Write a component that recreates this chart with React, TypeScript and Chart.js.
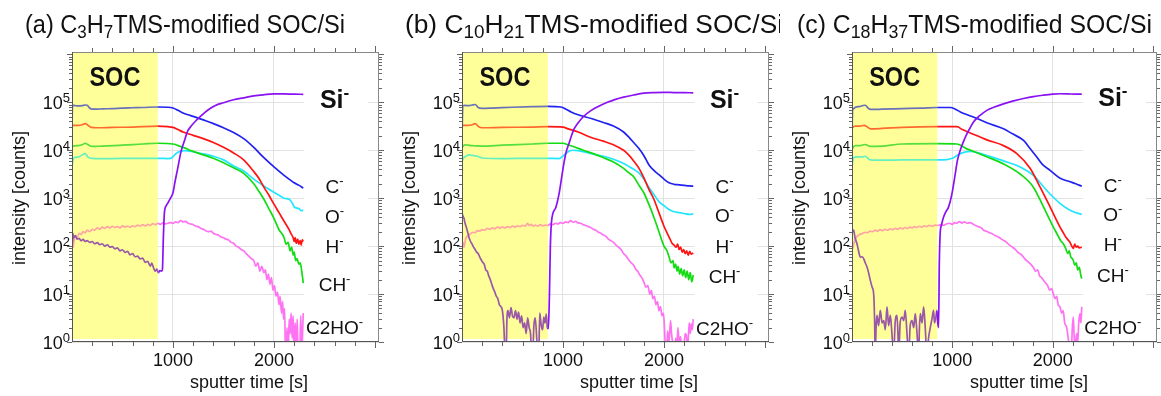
import React, { useEffect, useRef } from 'react';
import { Chart, registerables } from 'chart.js';
Chart.register(...registerables);

const FONT = "'Liberation Sans', Arial, sans-serif";
Chart.defaults.font.family = FONT;

const SOC_END = 850;
const X_MAX = 3040;
const Y_MAX = Math.pow(10, 6.05);
const Y_TICKS = [1, 10, 100, 1000, 10000, 100000];
const X_TICKS = [1000, 2000];

const SERIES_NAMES = ['Si', 'C', 'H', 'CH', 'O', 'C2HO'];
const COLORS = ['#8a12f2', '#2222f0', '#ff1414', '#14dc14', '#22e6ff', '#ff72f2'];
const SOC_COLORS = ['#9a58a8', '#6a72b8', '#ff6a30', '#55de3c', '#66f0c0', '#ffa4a4'];

const RIGHT_LABELS = ['Si', 'C', 'O', 'H', 'CH', 'C2HO'];
const LABEL_T = 2600;

// ---------- panel (a) C3H7 ----------
const aSi = [[0,250],[5,120],[10,180],[20,150],[35,165],[50,140],[70,145],[90,130],[110,138],[130,125],[150,130],[175,120],[200,125],[225,112],[250,118],[275,108],[300,112],[325,100],[350,106],[375,95],[400,98],[425,88],[450,92],[475,80],[500,84],[525,74],[550,78],[575,66],[600,70],[625,60],[650,62],[675,54],[700,56],[725,46],[750,48],[775,38],[790,44],[810,34],[825,30],[840,33],[855,28],[870,31],[885,30],[895,32],[905,160],[915,500],[930,680],[950,800],[975,1000],[1000,1300],[1020,2200],[1045,4000],[1080,9500],[1110,15000],[1145,25000],[1180,32000],[1230,42000],[1280,53000],[1350,70000],[1420,86000],[1500,98000],[1600,113000],[1700,124000],[1800,136000],[1900,144000],[2000,150000],[2100,150000],[2200,148000],[2290,147000]];
const aC = [[0,20000],[4,80000],[20,86000],[60,84000],[100,85000],[130,88000],[150,87000],[175,76000],[200,72000],[250,72000],[300,73000],[400,74000],[500,76000],[600,77000],[700,78000],[850,80000],[950,79000],[1000,76000],[1050,68000],[1100,60000],[1150,55000],[1200,51000],[1300,43000],[1400,36000],[1500,29500],[1600,23500],[1700,17500],[1800,11500],[1900,7000],[2000,4500],[2100,3000],[2200,2100],[2250,1850],[2290,1620]];
const aH = [[0,28000],[4,33000],[60,33000],[100,34000],[130,36000],[160,33000],[190,30000],[250,29500],[400,30000],[600,30500],[850,32000],[950,31000],[1000,30000],[1050,27000],[1100,24000],[1200,20500],[1300,17500],[1400,14500],[1500,11500],[1600,8800],[1700,6300],[1800,3600],[1850,2600],[1900,1700],[1950,1150],[2000,750],[2050,500],[2100,330],[2150,220],[2170,180],[2190,150],[2200,125],[2210,150],[2220,115],[2235,140],[2245,110],[2260,130],[2270,105],[2280,135],[2290,125]];
const aCH = [[0,11000],[4,12000],[60,12500],[100,13000],[130,14000],[160,13000],[200,12000],[300,12200],[500,12800],[700,13500],[850,14000],[1000,13500],[1050,12500],[1100,11500],[1200,9500],[1300,8000],[1400,6800],[1500,5500],[1600,4300],[1700,3300],[1800,2000],[1850,1400],[1900,950],[1950,600],[2000,380],[2050,220],[2080,180],[2100,150],[2120,110],[2140,120],[2160,80],[2175,95],[2190,65],[2200,75],[2215,50],[2230,55],[2245,42],[2260,45],[2275,30],[2290,17]];
const aO = [[0,4500],[5,5500],[20,7000],[60,7200],[100,8000],[130,8500],[160,7200],[200,6800],[400,6700],[600,6800],[850,6800],[950,6700],[990,7000],[1030,8500],[1070,9500],[1120,9800],[1200,9300],[1300,8400],[1400,7500],[1500,6300],[1600,4700],[1700,3700],[1800,2500],[1900,1800],[2000,1330],[2050,1150],[2100,1000],[2150,950],[2180,800],[2200,660],[2230,620],[2250,600],[2270,550],[2290,560]];
const aC2HO = [[0,90],[5,200],[12,95],[20,130],[35,160],[50,150],[70,185],[90,175],[110,200],[130,190],[150,215],[175,200],[200,225],[225,215],[250,240],[275,225],[300,250],[325,235],[350,255],[375,240],[400,260],[425,245],[450,255],[475,240],[500,265],[525,250],[550,262],[575,248],[600,265],[625,255],[650,275],[675,260],[700,280],[725,265],[750,285],[775,270],[800,295],[825,280],[850,300],[875,285],[900,305],[925,290],[950,300],[975,310],[1000,300],[1025,320],[1050,310],[1075,340],[1100,320],[1125,330],[1150,300],[1175,290],[1200,280],[1225,260],[1250,255],[1275,235],[1300,225],[1325,210],[1350,200],[1375,205],[1400,185],[1425,175],[1450,170],[1475,155],[1500,150],[1525,140],[1550,135],[1575,120],[1600,115],[1625,100],[1650,95],[1675,85],[1700,80],[1725,70],[1750,62],[1775,55],[1800,50],[1820,38],[1840,45],[1860,30],[1880,38],[1900,28],[1915,32],[1930,20],[1945,26],[1960,16],[1975,22],[1990,12],[2005,15],[2020,9],[2035,11],[2050,6],[2060,9],[2075,4],[2085,7],[2095,3],[2105,5],[2115,0.5],[2130,2],[2140,0.4],[2150,3],[2160,1.5],[2170,4],[2180,1.2],[2190,3.5],[2200,0.5],[2210,2.5],[2220,0.8],[2230,3],[2240,0.4],[2255,0.5],[2265,3.5],[2275,0.6],[2285,2],[2290,4]];
const aLabelY = [115000, 1780, 430, 100, 16, 2.05];

// ---------- panel (b) C10H21 ----------
const bSi = [[0,500],[10,420],[20,380],[30,300],[40,260],[55,200],[70,150],[85,125],[100,110],[115,95],[130,85],[145,75],[160,70],[175,60],[190,52],[205,46],[220,42],[235,32],[250,30],[265,24],[280,20],[295,16],[310,13],[325,11],[340,9],[355,8],[370,6],[385,5.5],[400,4.5],[415,2],[425,0.6],[435,0.4],[445,3],[455,4.5],[470,3.2],[485,5.2],[500,3.5],[515,3.2],[530,4.5],[545,3],[560,4.2],[575,2.5],[590,3.5],[605,2],[620,2.5],[635,1.5],[650,3.2],[665,2],[680,1.4],[690,0.4],[700,0.5],[712,2.2],[725,3.2],[740,1.2],[752,0.4],[760,0.5],[770,4],[785,2.2],[798,1.8],[810,3.3],[822,2.5],[835,3.8],[845,2],[855,1.9],[865,8],[875,100],[885,300],[900,480],[930,650],[960,1200],[990,3000],[1010,5500],[1030,9000],[1060,14000],[1080,19000],[1110,28000],[1145,36000],[1200,50000],[1280,68000],[1350,82000],[1440,100000],[1520,115000],[1600,128000],[1700,142000],[1800,155000],[1900,160000],[2000,162000],[2100,160000],[2200,159000],[2290,158000]];
const bC = [[0,19000],[8,85000],[30,86000],[70,85000],[100,88000],[130,90000],[160,78000],[200,75000],[300,76000],[500,79000],[700,81000],[850,82000],[980,80000],[1030,72000],[1080,63000],[1150,55000],[1280,46000],[1400,38000],[1500,32000],[1600,24000],[1650,19000],[1700,14500],[1750,11000],[1800,7800],[1850,5000],[1900,3800],[1950,3100],[2000,2500],[2050,2100],[2100,1950],[2150,1900],[2200,1850],[2250,1800],[2290,1780]];
const bH = [[0,30000],[8,33000],[60,33000],[100,34000],[130,36000],[165,31000],[200,29500],[400,30000],[700,30500],[850,31000],[1000,30500],[1050,28000],[1150,24000],[1280,18500],[1400,15500],[1500,13000],[1600,10000],[1650,8000],[1700,6000],[1750,4300],[1800,2700],[1850,1550],[1900,950],[1950,500],[2000,260],[2030,190],[2060,140],[2080,115],[2100,105],[2120,95],[2135,110],[2150,85],[2165,95],[2180,75],[2195,85],[2210,70],[2225,80],[2240,65],[2255,78],[2270,68],[2290,72]];
const bCH = [[0,11000],[8,12000],[30,13000],[60,12800],[100,12500],[130,12400],[200,12200],[400,12800],[700,13500],[850,14000],[1000,14000],[1050,13000],[1100,12000],[1200,10000],[1300,8500],[1400,7000],[1500,5700],[1600,4200],[1650,3400],[1700,2800],[1750,1900],[1800,1300],[1850,750],[1900,400],[1950,200],[2000,100],[2030,80],[2050,60],[2070,45],[2090,50],[2100,35],[2115,42],[2130,30],[2140,38],[2155,26],[2170,34],[2185,24],[2200,32],[2215,22],[2230,30],[2245,20],[2260,28],[2275,18],[2290,25]];
const bO = [[0,5500],[8,6500],[40,7500],[70,8000],[100,7800],[150,7500],[200,6900],[400,6700],[700,6800],[850,6800],[960,6700],[1000,7600],[1040,9000],[1090,10000],[1150,9800],[1280,8500],[1400,7500],[1500,6500],[1600,5300],[1700,4000],[1750,3400],[1800,2500],[1850,1700],[1900,1200],[1950,850],[2000,700],[2050,580],[2100,520],[2150,500],[2200,480],[2250,460],[2290,470]];
const bC2HO = [[0,80],[10,120],[20,95],[35,140],[50,160],[70,170],[90,185],[110,195],[130,190],[150,210],[175,205],[200,220],[225,215],[250,235],[275,225],[300,240],[325,230],[350,250],[375,238],[400,252],[425,240],[450,255],[475,245],[500,262],[525,250],[550,265],[575,255],[600,270],[625,260],[650,300],[665,270],[685,285],[705,260],[725,275],[750,260],[775,280],[800,265],[825,275],[850,270],[875,290],[900,280],[925,300],[950,290],[975,310],[1000,300],[1025,320],[1050,310],[1075,340],[1100,315],[1125,330],[1150,305],[1175,300],[1200,280],[1225,270],[1250,255],[1275,245],[1300,225],[1325,215],[1350,195],[1375,185],[1400,170],[1425,160],[1450,140],[1475,130],[1500,120],[1525,105],[1550,95],[1575,85],[1600,70],[1625,62],[1650,52],[1675,45],[1700,40],[1720,33],[1740,30],[1760,25],[1780,22],[1800,18],[1820,14],[1840,15],[1860,10],[1875,12],[1890,8],[1905,9],[1920,6],[1935,7],[1950,4.5],[1965,5.5],[1980,3.5],[1995,4],[2005,2],[2015,0.6],[2025,0.4],[2035,1.7],[2050,1],[2065,2.8],[2075,1.5],[2090,0.8],[2105,0.4],[2115,1.2],[2125,0.6],[2138,2],[2150,1],[2165,1.3],[2180,0.5],[2195,0.7],[2210,1.5],[2220,1.4],[2235,0.8],[2250,2.5],[2260,1.5],[2270,2.4],[2280,1.8],[2290,3]];
const bLabelY = [120000, 1820, 440, 100, 24, 2.0];

// ---------- panel (c) C18H37 ----------
const cSi = [[0,230],[10,200],[17,215],[30,150],[50,112],[65,80],[83,59],[100,60],[116,55],[132,45],[149,37],[165,28],[182,19.5],[200,14],[216,10],[225,3],[232,0.5],[240,2],[249,3.6],[265,2.2],[282,4.6],[300,2.5],[316,2.8],[332,1.8],[349,5.4],[365,2.2],[382,3.6],[398,1.5],[415,0.5],[430,2.5],[448,3.6],[458,1.5],[465,0.5],[480,2.5],[498,3.3],[515,2.8],[531,4.6],[548,1.5],[564,0.5],[580,2.2],[598,2.8],[615,2],[631,3.9],[648,1.5],[664,0.5],[672,2],[681,3.9],[698,2.5],[714,5.4],[730,2],[747,0.5],[763,1.2],[780,2],[797,3],[813,4.6],[822,2.5],[830,2.8],[838,3.5],[846,4.6],[855,2.5],[863,2],[870,40],[879,186],[891,270],[912,400],[935,520],[963,660],[996,1230],[1010,1800],[1029,3200],[1050,6000],[1079,10000],[1110,15000],[1145,22000],[1180,30000],[1211,39000],[1270,52000],[1344,68000],[1420,80000],[1510,93000],[1610,107000],[1709,120000],[1808,132000],[1908,141000],[2000,148000],[2073,151000],[2150,150000],[2230,148000],[2290,148000]];
const cC = [[0,20000],[6,70000],[17,74000],[34,79000],[80,82000],[110,86000],[133,87000],[160,76000],[185,71000],[300,72000],[500,74000],[700,76000],[850,78000],[980,78000],[1030,72000],[1080,63000],[1150,55000],[1245,46000],[1350,37000],[1510,28000],[1600,22000],[1710,16000],[1780,10500],[1840,7300],[1900,5000],[1975,3800],[2075,2600],[2175,2200],[2230,2000],[2290,1780]];
const cH = [[0,28000],[6,30000],[34,32000],[80,32000],[120,33000],[150,31000],[183,28000],[300,28500],[500,30000],[850,31000],[1046,31000],[1100,27000],[1178,23000],[1344,16500],[1510,12500],[1643,8500],[1775,4200],[1875,1700],[1974,660],[2073,250],[2100,200],[2130,155],[2160,130],[2173,120],[2190,100],[2206,90],[2220,110],[2235,95],[2250,100],[2265,92],[2290,95]];
const cCH = [[0,10000],[6,11000],[34,12500],[80,12500],[130,13200],[183,12000],[300,12200],[500,13500],[850,13700],[1046,13500],[1145,10700],[1250,8800],[1344,7300],[1510,5200],[1676,3200],[1808,1700],[1908,660],[2007,250],[2050,170],[2080,130],[2106,112],[2130,90],[2150,70],[2165,80],[2180,60],[2195,55],[2206,50],[2220,40],[2235,45],[2250,32],[2265,36],[2280,25],[2290,21]];
const cO = [[0,4500],[8,6000],[25,7200],[60,7300],[100,7200],[130,7500],[183,6300],[300,6200],[500,6300],[850,6300],[946,6400],[1000,6800],[1079,8500],[1178,9500],[1250,9000],[1344,7800],[1510,6000],[1676,4500],[1808,3000],[1941,1450],[2073,780],[2173,560],[2230,500],[2290,460]];
const cC2HO = [[0,100],[10,90],[17,112],[30,130],[45,155],[67,170],[90,180],[110,185],[133,195],[155,190],[180,205],[205,200],[232,215],[255,205],[280,220],[305,210],[330,225],[355,215],[380,230],[405,220],[431,235],[455,225],[480,240],[505,230],[530,245],[555,235],[580,250],[598,240],[620,255],[645,245],[670,260],[695,250],[720,265],[745,255],[770,270],[795,260],[830,275],[860,270],[890,285],[912,270],[940,290],[970,300],[1000,285],[1020,310],[1046,300],[1070,325],[1095,305],[1120,320],[1150,300],[1178,310],[1205,290],[1230,270],[1260,255],[1290,240],[1311,214],[1340,205],[1370,190],[1400,180],[1430,165],[1460,155],[1490,140],[1510,132],[1540,120],[1570,105],[1600,95],[1630,85],[1660,72],[1690,66],[1720,55],[1750,48],[1780,42],[1808,36],[1830,30],[1850,32],[1870,24],[1890,22],[1908,19.5],[1930,17],[1950,15],[1970,12],[1990,13],[2007,10],[2025,8],[2040,9],[2055,6],[2073,5.4],[2090,4],[2105,4.5],[2120,2.5],[2140,2],[2155,1.2],[2173,0.6],[2185,0.5],[2195,1.8],[2206,3.3],[2215,1.2],[2225,0.8],[2239,1.5],[2250,1],[2260,2.5],[2272,3.9],[2282,2.5],[2290,5.4]];
const cLabelY = [129000, 1860, 457, 112, 24.5, 2.05];

type Pt = number[];
interface Panel {
  left: number; width: number; padRight: number; titleX: number; titleW: number;
  title: string[]; series: Pt[][]; labelY: number[];
}

const PANELS: Panel[] = [
  { left: 0, width: 390, padRight: 11, titleX: 25, titleW: 320, title: ['(a) C', '3', 'H', '7', 'TMS-modified SOC/Si'], series: [aSi, aC, aH, aCH, aO, aC2HO], labelY: aLabelY },
  { left: 390, width: 390, padRight: 11, titleX: 15, titleW: 378, title: ['(b) C', '10', 'H', '21', 'TMS-modified SOC/Si'], series: [bSi, bC, bH, bCH, bO, bC2HO], labelY: bLabelY },
  { left: 780, width: 381, padRight: 4, titleX: 17, titleW: 355, title: ['(c) C', '18', 'H', '37', 'TMS-modified SOC/Si'], series: [cSi, cC, cH, cCH, cO, cC2HO], labelY: cLabelY },
];

type Part = { t: string; font: string; dy?: number };
function drawRich(ctx: CanvasRenderingContext2D, parts: Part[], x: number, y: number, align: 'left' | 'center' | 'right', targetW?: number) {
  let w = 0;
  for (const p of parts) { ctx.font = p.font; w += ctx.measureText(p.t).width; }
  const sx = targetW ? targetW / w : 1;
  ctx.save();
  ctx.translate(x, y);
  ctx.scale(sx, 1);
  ctx.textAlign = 'left';
  ctx.textBaseline = 'alphabetic';
  let cx = align === 'center' ? -w / 2 : align === 'right' ? -w : 0;
  for (const p of parts) {
    ctx.font = p.font;
    ctx.fillText(p.t, cx, p.dy || 0);
    cx += ctx.measureText(p.t).width;
  }
  ctx.restore();
}

function makePlugin(panel: Panel) {
  return {
    id: 'panelDecor',
    beforeDatasetsDraw(chart: any) {
      const { ctx, chartArea: a, scales } = chart;
      const x = scales.x;
      ctx.save();
      ctx.fillStyle = '#ffff99';
      const xs = x.getPixelForValue(SOC_END);
      ctx.fillRect(a.left, a.top, xs - a.left, a.bottom - 3 - a.top);
      ctx.fillStyle = '#ffffff';
      const b0 = x.getPixelForValue(2300), b1 = x.getPixelForValue(2930);
      ctx.fillRect(b0, a.top + 3, b1 - b0, a.bottom - a.top - 4);
      ctx.restore();
    },
    afterDraw(chart: any) {
      const { ctx, chartArea: a, scales } = chart;
      const x = scales.x, y = scales.y;
      ctx.save();
      // frame
      ctx.lineWidth = 1;
      ctx.strokeStyle = '#888';
      ctx.beginPath();
      ctx.moveTo(a.left, a.top + 0.5); ctx.lineTo(a.right, a.top + 0.5);
      ctx.moveTo(a.right - 0.5, a.top); ctx.lineTo(a.right - 0.5, a.bottom);
      ctx.stroke();
      ctx.strokeStyle = '#555';
      ctx.beginPath();
      ctx.moveTo(a.left + 0.5, a.top); ctx.lineTo(a.left + 0.5, a.bottom);
      ctx.moveTo(a.left, a.bottom - 0.5); ctx.lineTo(a.right, a.bottom - 0.5);
      ctx.stroke();
      // x ticks
      ctx.strokeStyle = '#666';
      ctx.beginPath();
      for (let t = 200; t < X_MAX; t += 200) {
        const px = Math.round(x.getPixelForValue(t)) + 0.5;
        const len = t % 1000 === 0 ? 6 : 4;
        ctx.moveTo(px, a.bottom); ctx.lineTo(px, a.bottom + len);
        ctx.moveTo(px, a.top); ctx.lineTo(px, a.top - len);
      }
      // y ticks
      for (let d = 0; d <= 6; d++) {
        for (let m = 1; m <= 9; m++) {
          const v = m * Math.pow(10, d);
          if (v > Y_MAX) break;
          const py = Math.round(y.getPixelForValue(v)) + 0.5;
          const len = m === 1 ? 5 : 3;
          ctx.moveTo(a.left, py); ctx.lineTo(a.left - len, py);
          ctx.moveTo(a.right, py); ctx.lineTo(a.right + len, py);
        }
      }
      ctx.stroke();

      ctx.fillStyle = '#111';
      // y tick labels (10^n with superscript exponent)
      Y_TICKS.forEach((v) => {
        const py = y.getPixelForValue(v);
        const e = String(Math.round(Math.log10(v)));
        drawRich(ctx, [{ t: '10', font: `18px ${FONT}` }, { t: e, font: `13px ${FONT}`, dy: -7 }], a.left - 2, py + 7, 'right');
      });
      // SOC label
      drawRich(ctx, [{ t: 'SOC', font: `bold 27px ${FONT}` }], x.getPixelForValue(SOC_END / 2), y.getPixelForValue(Math.pow(10, 5.54)) + 10, 'center', 51);
      // species labels
      RIGHT_LABELS.forEach((lab, i) => {
        const px = x.getPixelForValue(LABEL_T);
        const py = y.getPixelForValue(panel.labelY[i]);
        if (lab === 'Si') {
          drawRich(ctx, [{ t: 'Si', font: `bold 25px ${FONT}` }, { t: '-', font: `bold 17px ${FONT}`, dy: -10 }], px, py + 9, 'center');
        } else {
          drawRich(ctx, [{ t: lab, font: `19px ${FONT}` }, { t: '-', font: `13px ${FONT}`, dy: -8 }], px, py + 7, 'center');
        }
      });
      // title
      const T = panel.title;
      drawRich(ctx, [
        { t: T[0], font: `25px ${FONT}` },
        { t: T[1], font: `18px ${FONT}`, dy: 5 },
        { t: T[2], font: `25px ${FONT}` },
        { t: T[3], font: `18px ${FONT}`, dy: 5 },
        { t: T[4], font: `25px ${FONT}` },
      ], panel.titleX, 33, 'left', panel.titleW);
      // axis titles
      ctx.font = `18px ${FONT}`;
      ctx.textAlign = 'center';
      ctx.textBaseline = 'middle';
      ctx.fillText('sputter time [s]', 249, 383);
      ctx.save();
      ctx.translate(20, 198);
      ctx.rotate(-Math.PI / 2);
      ctx.fillText('intensity [counts]', 0, 0);
      ctx.restore();
      ctx.restore();
    },
  };
}

function PanelChart({ panel }: { panel: Panel }) {
  const ref = useRef<HTMLCanvasElement | null>(null);
  useEffect(() => {
    if (!ref.current) return;
    const datasets = SERIES_NAMES.map((name, i) => ({
      label: name,
      data: panel.series[i].map(([t, v]) => ({ x: t, y: v })),
      borderColor: COLORS[i],
      borderWidth: 1.7,
      pointRadius: 0,
      fill: false,
      cubicInterpolationMode: 'monotone' as const,
      segment: {
        borderColor: (c: any) => ((c.p0.parsed.x + c.p1.parsed.x) / 2 < SOC_END ? SOC_COLORS[i] : COLORS[i]),
      },
    }));
    const chart = new Chart(ref.current, {
      type: 'line',
      data: { datasets },
      plugins: [makePlugin(panel)],
      options: {
        responsive: false,
        maintainAspectRatio: false,
        animation: false,
        layout: { padding: { left: 0, right: panel.padRight, top: 52, bottom: 0 } },
        plugins: { legend: { display: false }, tooltip: { enabled: false } },
        scales: {
          x: {
            type: 'linear', min: 0, max: X_MAX,
            afterBuildTicks: (s: any) => { s.ticks = X_TICKS.map((v) => ({ value: v })); },
            afterFit: (s: any) => { s.height = 54; },
            ticks: { callback: (v: any) => String(v), font: { size: 18 }, color: '#111', padding: 8, maxRotation: 0, autoSkip: false },
            grid: { color: '#e2e2e2', drawTicks: false },
            border: { display: false },
          },
          y: {
            type: 'logarithmic', min: 1, max: Y_MAX,
            afterBuildTicks: (s: any) => { s.ticks = Y_TICKS.map((v) => ({ value: v })); },
            afterFit: (s: any) => { s.width = 72; },
            ticks: { display: false },
            grid: { color: '#e2e2e2', drawTicks: false },
            border: { display: false },
          },
        },
      } as any,
    });
    return () => chart.destroy();
  }, [panel]);
  return (
    <canvas
      ref={ref}
      width={panel.width}
      height={396}
      style={{ position: 'absolute', left: panel.left, top: 0, width: panel.width, height: 396 }}
    />
  );
}

export default function App() {
  return (
    <div style={{ position: 'fixed', left: 0, top: 0, width: 1161, height: 396, background: '#fff', overflow: 'hidden' }}>
      {PANELS.map((p, i) => (
        <PanelChart key={i} panel={p} />
      ))}
    </div>
  );
}
